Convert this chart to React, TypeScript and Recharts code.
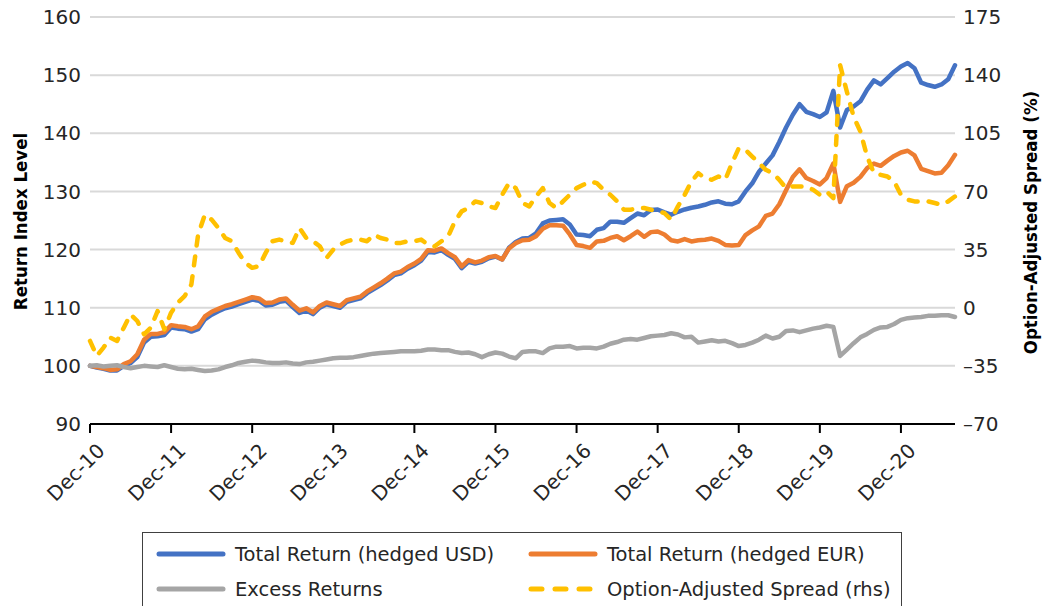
import React from 'react';
import { LineChart, Line, XAxis, YAxis, CartesianGrid, Legend } from 'recharts';

// Monthly observations, Dec-10 (index 0) to Aug-21 (index 128)
const usd = [
  100, 99.7, 99.5, 99.2, 99.2, 100.0, 100.5, 101.5, 104.0, 105.0,
  105.1, 105.3, 106.6, 106.4, 106.3, 105.9, 106.3, 108.0, 108.8, 109.4,
  109.9, 110.2, 110.6, 111.0, 111.4, 111.2, 110.4, 110.5, 111.0, 111.2,
  110.1, 109.1, 109.5, 108.9, 110.0, 110.6, 110.3, 110.0, 111.0, 111.3,
  111.6, 112.5, 113.2, 113.9, 114.7, 115.6, 115.9, 116.7, 117.3, 118.1,
  119.6, 119.5, 119.9, 119.1, 118.4, 116.8, 117.9, 117.6, 117.9, 118.5,
  118.8, 118.3, 120.3, 121.3, 121.9, 122.0, 122.8, 124.5, 125.0, 125.1,
  125.2, 124.3, 122.6, 122.5, 122.3, 123.4, 123.7, 124.8, 124.8, 124.6,
  125.4, 126.2, 125.9, 126.8, 126.9, 126.4, 126.0, 126.5, 126.9, 127.2,
  127.4, 127.7, 128.1, 128.3, 127.9, 127.8, 128.3, 130.0, 131.4, 133.4,
  134.8, 136.2, 138.5, 141.0, 143.2, 145.0, 143.7, 143.3, 142.8, 143.6,
  147.3, 141.0, 144.0, 144.6, 145.5, 147.5, 149.1, 148.4, 149.5, 150.6,
  151.5, 152.1, 151.2, 148.7, 148.3, 148.0, 148.4, 149.3, 151.7,
];

const eur = [
  100, 99.8, 99.6, 99.3, 99.4, 100.3, 100.8, 102, 104.5, 105.5,
  105.5, 105.8, 107, 106.8, 106.7, 106.3, 106.8, 108.5, 109.3, 109.8,
  110.3, 110.6, 111, 111.4, 111.8, 111.6, 110.8, 110.9, 111.4, 111.6,
  110.5, 109.5, 109.9, 109.2, 110.3, 110.9, 110.6, 110.3, 111.3, 111.6,
  111.9, 112.8, 113.5, 114.2, 115, 115.9, 116.2, 117, 117.6, 118.4,
  119.9, 119.8, 120.2, 119.4, 118.7, 117.1, 118.2, 117.8, 118.1, 118.7,
  118.9, 118.3, 120.2, 121.1, 121.6, 121.7, 122.3, 123.6, 124.2, 124.2,
  124.1, 122.6, 120.8, 120.6, 120.3, 121.4, 121.5, 122, 122.3, 121.6,
  122.3, 123.1, 122.2, 123, 123.1, 122.6, 121.6, 121.4, 121.8, 121.4,
  121.6, 121.7, 121.9, 121.5, 120.8, 120.7, 120.8, 122.5, 123.3, 124.0,
  125.8, 126.2, 127.8, 130.2, 132.5, 133.8, 132.3, 131.8, 131.2, 132.3,
  134.8, 128.2, 130.9, 131.5, 132.5, 134, 134.8, 134.4, 135.3, 136.1,
  136.7, 137, 136.2, 133.9, 133.5, 133.1, 133.2, 134.5, 136.3,
];

const excess = [
  100, 100.1, 99.9, 100, 100.1, 99.8, 99.6, 99.8, 100, 99.9,
  99.8, 100.1, 99.8, 99.5, 99.4, 99.5, 99.3, 99.1, 99.2, 99.4,
  99.8, 100.1, 100.5, 100.7, 100.9, 100.8, 100.6, 100.5, 100.5, 100.6,
  100.4, 100.3, 100.6, 100.7, 100.9, 101.1, 101.3, 101.4, 101.4, 101.5,
  101.7, 101.9, 102.1, 102.2, 102.3, 102.4, 102.5, 102.5, 102.5, 102.6,
  102.8, 102.8, 102.7, 102.7, 102.4, 102.2, 102.3, 102.0, 101.5, 102.0,
  102.3, 102.1, 101.6, 101.3, 102.4, 102.5, 102.5, 102.2, 103.0, 103.3,
  103.3, 103.4, 103.0, 103.1, 103.1, 103.0, 103.3, 103.8, 104.1, 104.5,
  104.6, 104.5, 104.8, 105.1, 105.2, 105.3, 105.6, 105.4, 104.9, 105.0,
  104.0, 104.2, 104.4, 104.2, 104.3, 103.9, 103.4, 103.6, 104.0, 104.5,
  105.2, 104.7, 105.0, 106.0, 106.1, 105.8, 106.1, 106.4, 106.6, 106.9,
  106.7, 101.7, 102.8, 103.9, 104.9, 105.5, 106.2, 106.6, 106.7, 107.2,
  107.9, 108.2, 108.3, 108.4, 108.6, 108.6, 108.7, 108.7, 108.4,
];

const oas = [
  -20, -29, -24, -18, -20, -12, -4, -8, -16, -12,
  -2, -13, -3, 3, 7, 14, 44, 56, 53, 48,
  42, 40, 33, 27, 24, 25, 33, 40, 41, 40,
  39, 48, 42, 40, 37, 30, 35, 38, 40, 41,
  41, 40, 44, 42, 41, 39, 39, 40, 40, 41,
  38, 37, 40, 43, 52, 58, 60, 64, 63, 61,
  60, 68, 75, 72, 63, 61, 67, 72, 63, 60,
  64, 68, 72, 74, 76, 75, 71, 68, 64, 59,
  59, 60, 60, 59, 58, 57, 53, 61, 68, 76,
  81, 78, 77, 79, 77, 87, 96, 95, 91, 87,
  83, 81, 77, 72, 73, 73, 73, 71, 68, 70,
  66, 146, 130, 115, 106, 91, 81, 80, 79, 76,
  68, 65, 64, 64, 64, 63, 62, 64, 67,
];

const xTicks = [0, 12, 24, 36, 48, 60, 72, 84, 96, 108, 120];
const xTickLabels = ['Dec-10', 'Dec-11', 'Dec-12', 'Dec-13', 'Dec-14', 'Dec-15', 'Dec-16', 'Dec-17', 'Dec-18', 'Dec-19', 'Dec-20'];
const leftTicks = [90, 100, 110, 120, 130, 140, 150, 160];
const rightTicks = [-70, -35, 0, 35, 70, 105, 140, 175];

const seriesNames = ['Total Return (hedged USD)', 'Total Return (hedged EUR)', 'Excess Returns', 'Option-Adjusted Spread (rhs)'];
const seriesColors = ['#4472C4', '#ED7D31', '#A5A5A5', '#FFC000'];

const data = usd.map((v, i) => ({ m: i, usd: v, eur: eur[i], excess: excess[i], oas: oas[i] }));

const FONT = "'DejaVu Sans', sans-serif";
const TITLE_FONT = "'DejaVu Sans Condensed', 'DejaVu Sans', sans-serif";
const TEXT = '#262626';

const XTick = (props: any) => {
  const { x, y, payload } = props;
  const idx = xTicks.indexOf(payload.value);
  const ax = x + 16;
  const ay = y + 19;
  return (
    <text x={ax} y={ay} transform={`rotate(-45, ${ax}, ${ay})`} textAnchor="end"
      fontFamily={FONT} fontSize={20} fill={TEXT}>
      {idx >= 0 ? xTickLabels[idx] : ''}
    </text>
  );
};

const fmtRight = (v: number) => (v < 0 ? '\u2013' + Math.abs(v) : String(v));

const LeftTitle = (props: any) => {
  const vb = props.viewBox || { y: 17, height: 407 };
  const cx = 27;
  const cy = vb.y + vb.height / 2 + 1;
  return (
    <text x={cx} y={cy} transform={`rotate(-90, ${cx}, ${cy})`} textAnchor="middle"
      fontFamily={TITLE_FONT} fontWeight="bold" fontSize={18.5} fill="#000">
      Return Index Level
    </text>
  );
};

const RightTitle = (props: any) => {
  const vb = props.viewBox || { y: 17, height: 407 };
  const cx = 1037;
  const cy = vb.y + vb.height / 2 + 2;
  return (
    <text x={cx} y={cy} transform={`rotate(-90, ${cx}, ${cy})`} textAnchor="middle"
      fontFamily={TITLE_FONT} fontWeight="bold" fontSize={18.5} fill="#000">
      Option-Adjusted Spread (%)
    </text>
  );
};

const LegendBox = () => {
  const items = seriesNames.map((n, i) => ({ name: n, color: seriesColors[i], dashed: i === 3 }));
  const pos = [
    { left: 13, top: 21 }, { left: 385, top: 21 },
    { left: 13, top: 56 }, { left: 385, top: 56 },
  ];
  return (
    <div style={{ position: 'relative', width: 760, height: 90, border: '1.5px solid #404040', boxSizing: 'border-box', background: '#fff' }}>
      {items.map((it, i) => (
        <div key={it.name} style={{ position: 'absolute', left: pos[i].left, top: pos[i].top - 12, height: 24, display: 'flex', alignItems: 'center', whiteSpace: 'nowrap' }}>
          <svg width={70} height={10} style={{ display: 'block' }}>
            <line x1={3} y1={5} x2={67} y2={5} stroke={it.color} strokeWidth={5}
              strokeLinecap="round" strokeDasharray={it.dashed ? '11 13' : undefined} />
          </svg>
          <span style={{ marginLeft: 9, fontFamily: FONT, fontSize: 19.5, color: TEXT }}>{it.name}</span>
        </div>
      ))}
    </div>
  );
};

export default function App() {
  return (
    <div style={{ position: 'absolute', left: 0, top: 0, width: 1045, height: 606, background: '#fff', overflow: 'hidden' }}>
      <LineChart width={1045} height={606} data={data} margin={{ top: 17, right: 0, bottom: 122, left: 0 }}>
        <CartesianGrid yAxisId="left" vertical={false} stroke="#D9D9D9" strokeWidth={2} />
        <XAxis dataKey="m" type="number" domain={[0, 128]} ticks={xTicks} interval={0}
          tick={<XTick />} height={60} tickSize={9} tickMargin={0}
          axisLine={{ stroke: '#000', strokeWidth: 2 }} tickLine={{ stroke: '#000', strokeWidth: 2 }} />
        <YAxis yAxisId="left" orientation="left" width={90} domain={[90, 160]} ticks={leftTicks}
          interval={0} axisLine={false} tickLine={false} tickSize={0} tickMargin={9}
          tick={{ fontFamily: FONT, fontSize: 20, fill: TEXT }} label={<LeftTitle />} />
        <YAxis yAxisId="right" orientation="right" width={90} domain={[-70, 175]} ticks={rightTicks}
          interval={0} axisLine={false} tickLine={false} tickSize={0} tickMargin={8}
          tickFormatter={fmtRight}
          tick={{ fontFamily: FONT, fontSize: 20, fill: TEXT }} label={<RightTitle />} />
        <Line yAxisId="left" dataKey="usd" name={seriesNames[0]} stroke={seriesColors[0]} strokeWidth={4.5}
          dot={false} activeDot={false} isAnimationActive={false} strokeLinejoin="round" strokeLinecap="round" />
        <Line yAxisId="left" dataKey="eur" name={seriesNames[1]} stroke={seriesColors[1]} strokeWidth={4.5}
          dot={false} activeDot={false} isAnimationActive={false} strokeLinejoin="round" strokeLinecap="round" />
        <Line yAxisId="left" dataKey="excess" name={seriesNames[2]} stroke={seriesColors[2]} strokeWidth={4.5}
          dot={false} activeDot={false} isAnimationActive={false} strokeLinejoin="round" strokeLinecap="round" />
        <Line yAxisId="right" dataKey="oas" name={seriesNames[3]} stroke={seriesColors[3]} strokeWidth={4.5}
          strokeDasharray="9 11" dot={false} activeDot={false} isAnimationActive={false}
          strokeLinejoin="round" strokeLinecap="round" />
        <Legend layout="horizontal" verticalAlign="middle" align="center" content={<LegendBox />}
          wrapperStyle={{ position: 'absolute', left: 142, top: 532, width: 760, height: 90 }} />
      </LineChart>
    </div>
  );
}
